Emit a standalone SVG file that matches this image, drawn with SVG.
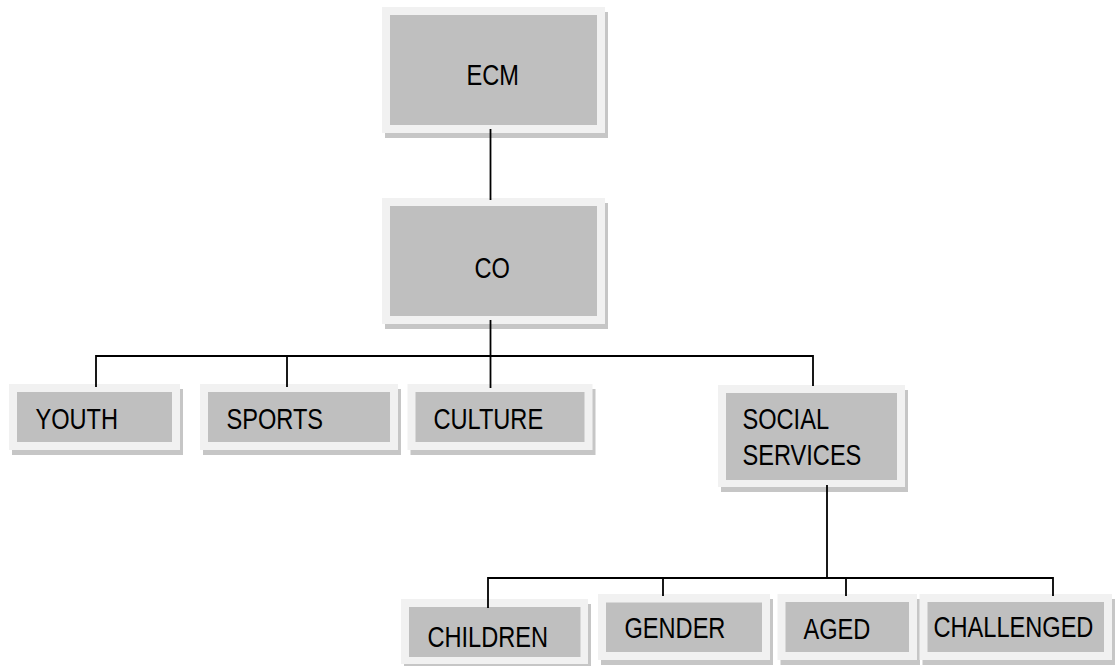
<svg xmlns="http://www.w3.org/2000/svg" width="1117" height="666" viewBox="0 0 1117 666">
<style>
.sh{fill:#c6c6c6}
.out{fill:#f1f1f1}
.in{fill:#bfbfbf}
.t{font-family:"Liberation Sans",Arial,sans-serif;font-size:23.6px;fill:#000}
.c{stroke:#000;stroke-width:1.8;fill:none}
</style>
<rect width="1117" height="666" fill="#fff"/>
<g id="ECM">
<rect class="sh" x="385" y="12" width="223" height="126"/>
<rect class="out" x="382" y="7" width="223" height="126"/>
<rect class="in" x="390" y="15" width="207" height="110"/>
<text class="t" transform="matrix(1 0 0 1.23 466.5 85)">ECM</text>
</g>
<g id="CO">
<rect class="sh" x="385" y="203" width="223" height="126"/>
<rect class="out" x="382" y="198" width="223" height="126"/>
<rect class="in" x="390" y="206" width="207" height="110"/>
<text class="t" transform="matrix(1 0 0 1.23 474.5 278)">CO</text>
</g>
<g id="YOUTH">
<rect class="sh" x="12" y="389" width="171" height="66"/>
<rect class="out" x="9" y="384" width="171" height="66"/>
<rect class="in" x="17" y="392" width="155" height="50"/>
<text class="t" transform="matrix(1 0 0 1.23 35.5 429)">YOUTH</text>
</g>
<g id="SPORTS">
<rect class="sh" x="203" y="389" width="198" height="66"/>
<rect class="out" x="200" y="384" width="198" height="66"/>
<rect class="in" x="208" y="392" width="182" height="50"/>
<text class="t" transform="matrix(1 0 0 1.23 226.5 429)">SPORTS</text>
</g>
<g id="CULTURE">
<rect class="sh" x="410.5" y="389" width="185" height="66"/>
<rect class="out" x="407.5" y="384" width="185" height="66"/>
<rect class="in" x="415.5" y="392" width="169" height="50"/>
<text class="t" transform="matrix(1 0 0 1.23 433.5 429)">CULTURE</text>
</g>
<g id="SOCIAL_SERVICES">
<rect class="sh" x="721" y="390" width="187" height="102"/>
<rect class="out" x="718" y="385" width="187" height="102"/>
<rect class="in" x="726" y="393" width="171" height="87"/>
<text class="t" transform="matrix(1 0 0 1.23 742.5 429)">SOCIAL</text>
<text class="t" transform="matrix(1 0 0 1.23 742.5 465)">SERVICES</text>
</g>
<g id="CHILDREN">
<rect class="sh" x="404" y="604" width="187" height="65"/>
<rect class="out" x="401" y="599" width="187" height="65"/>
<rect class="in" x="409" y="607" width="171.5" height="50"/>
<text class="t" transform="matrix(1 0 0 1.23 427.5 646.5)">CHILDREN</text>
</g>
<g id="GENDER">
<rect class="sh" x="601" y="599" width="172" height="66"/>
<rect class="out" x="598" y="594" width="172" height="66"/>
<rect class="in" x="606" y="602.5" width="156" height="49.5"/>
<text class="t" transform="matrix(1 0 0 1.23 624.5 638)">GENDER</text>
</g>
<g id="AGED">
<rect class="sh" x="780.5" y="599" width="139.5" height="66"/>
<rect class="out" x="777.5" y="594" width="139.5" height="66"/>
<rect class="in" x="785.5" y="602" width="123.5" height="50"/>
<text class="t" transform="matrix(1 0 0 1.23 803.5 639)">AGED</text>
</g>
<g id="CHALLENGED">
<rect class="sh" x="922.5" y="599" width="192.5" height="66"/>
<rect class="out" x="919.5" y="594" width="192.5" height="66"/>
<rect class="in" x="927.5" y="602" width="176.5" height="50"/>
<text class="t" transform="matrix(1 0 0 1.23 933.5 637)">CHALLENGED</text>
</g>
<g id="connectors">
<path class="c" d="M490.5 129 V200"/>
<path class="c" d="M490.5 320 V388"/>
<path class="c" d="M96 387 V356 H813 V386"/>
<path class="c" d="M287 356 V387"/>
<path class="c" d="M827 485 V578"/>
<path class="c" d="M488 608 V578 H1053 V596"/>
<path class="c" d="M663 578 V596"/>
<path class="c" d="M846 578 V596"/>
</g>
</svg>
